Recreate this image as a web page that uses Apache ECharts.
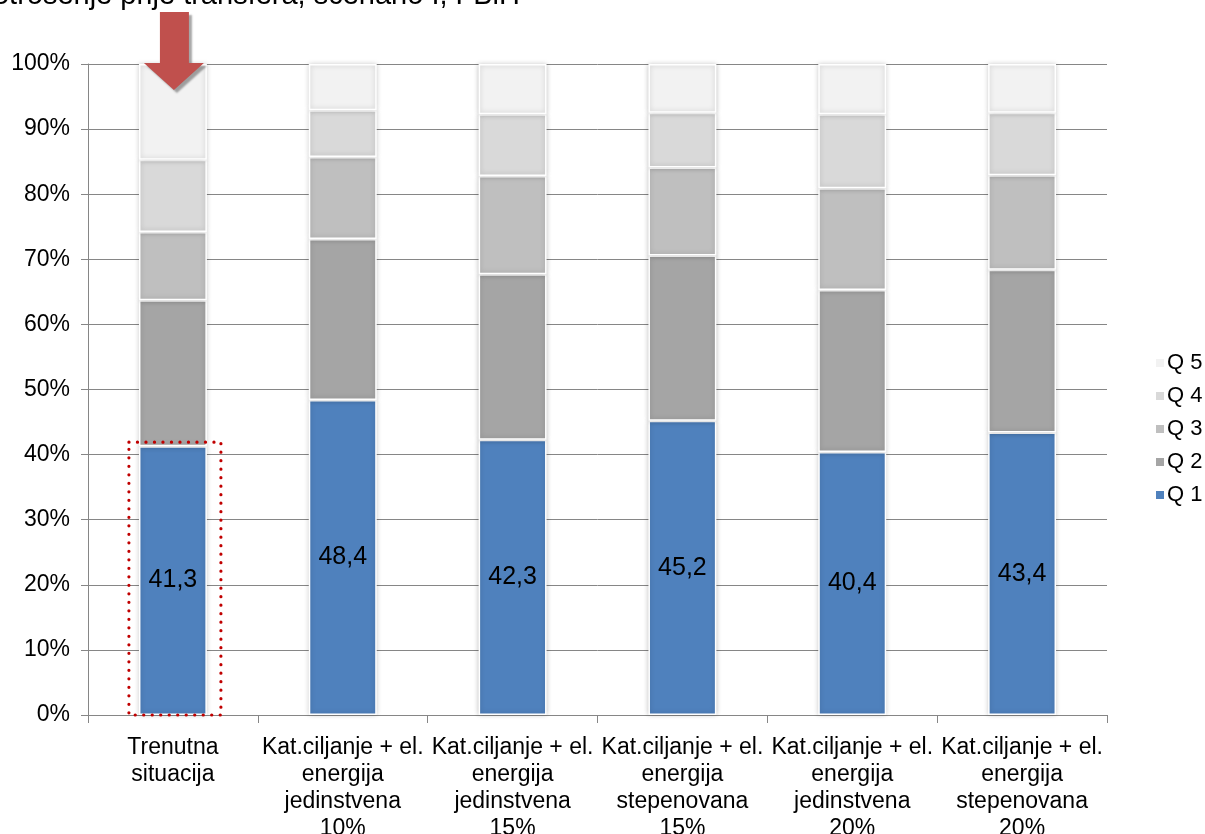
<!DOCTYPE html>
<html>
<head>
<meta charset="utf-8">
<script src="https://cdn.jsdelivr.net/npm/echarts@6/dist/echarts.min.js"></script>
<style>
  html, body { margin: 0; padding: 0; background: #fff; }
  #chart { width: 1205px; height: 834px; }
</style>
</head>
<body>
<div id="chart"></div>
<script>
// Scenarios on the x axis
const categories = [
  'Trenutna\nsituacija',
  'Kat.ciljanje + el.\nenergija\njedinstvena\n10%',
  'Kat.ciljanje + el.\nenergija\njedinstvena\n15%',
  'Kat.ciljanje + el.\nenergija\nstepenovana\n15%',
  'Kat.ciljanje + el.\nenergija\njedinstvena\n20%',
  'Kat.ciljanje + el.\nenergija\nstepenovana\n20%'
];

// Share of each quintile (%) per scenario
const q1 = [41.3, 48.4, 42.3, 45.2, 40.4, 43.4];
const q2 = [22.4, 24.7, 25.4, 25.4, 24.9, 25.0];
const q3 = [10.5, 12.6, 15.1, 13.5, 15.6, 14.5];
const q4 = [11.1, 7.2, 9.5, 8.4, 11.4, 9.6];
const q5 = [14.7, 7.1, 7.7, 7.5, 7.7, 7.5];

const seriesNames = ['Q 1', 'Q 2', 'Q 3', 'Q 4', 'Q 5'];
const seriesData = [q1, q2, q3, q4, q5];
const seriesColors = ['#4F81BD', '#A5A5A5', '#BFBFBF', '#D9D9D9', '#F2F2F2'];

const yTicks = { min: 0, max: 100, interval: 10 };
const titleText = 'Potrošenje prije transfera, scenario I, FBiH';

const FONT = 'Arial, "Liberation Sans", sans-serif';
const chart = echarts.init(document.getElementById('chart'));

const series = seriesNames.map((name, i) => ({
  name: name,
  type: 'bar',
  stack: 'total',
  barWidth: '40%',
  data: seriesData[i],
  itemStyle: {
    color: seriesColors[i],
    borderColor: '#ffffff',
    borderWidth: 1.5,
    shadowColor: 'rgba(0,0,0,0.22)',
    shadowBlur: 5
  },
  label: i === 0 ? {
    show: true,
    position: 'inside',
    color: '#000',
    fontFamily: FONT,
    fontSize: 25,
    formatter: p => p.value.toFixed(1).replace('.', ',')
  } : { show: false },
  emphasis: { disabled: true }
}));

chart.setOption({
  animation: false,
  backgroundColor: '#ffffff',
  grid: {
    left: 88, right: 98, top: 64, bottom: 119,
    containLabel: false,
    outerBoundsMode: 'none'
  },
  legend: {
    orient: 'vertical',
    left: 1149,
    top: 347,
    itemWidth: 10,
    itemHeight: 10,
    itemGap: 11,
    icon: 'rect',
    data: ['Q 5', 'Q 4', 'Q 3', 'Q 2', 'Q 1'],
    textStyle: { fontFamily: FONT, fontSize: 22, color: '#000', padding: [0, 0, 0, -3] }
  },
  xAxis: {
    type: 'category',
    data: categories,
    axisLine: { lineStyle: { color: '#868686', width: 1 } },
    axisTick: { show: true, length: 8, lineStyle: { color: '#868686' } },
    axisLabel: {
      interval: 0,
      margin: 19,
      color: '#000',
      fontFamily: FONT,
      fontSize: 23,
      lineHeight: 27
    }
  },
  yAxis: {
    type: 'value',
    min: yTicks.min,
    max: yTicks.max,
    interval: yTicks.interval,
    axisLine: { show: true, lineStyle: { color: '#868686', width: 1 } },
    axisTick: { show: true, inside: false, length: 7, lineStyle: { color: '#868686' } },
    splitLine: { show: true, lineStyle: { color: '#868686', width: 1 } },
    axisLabel: {
      margin: 18,
      color: '#000',
      fontFamily: FONT,
      fontSize: 23,
      formatter: '{value}%'
    }
  },
  series: series
});

// Annotations tied to the first scenario: red arrow and dotted frame around Q 1
const base = chart.convertToPixel({ gridIndex: 0 }, [0, 0]);
const q1Top = chart.convertToPixel({ gridIndex: 0 }, [0, q1[0]]);
const top100 = chart.convertToPixel({ gridIndex: 0 }, [0, 100]);
const cx = base[0] + 1;

chart.setOption({
  graphic: [
    {
      type: 'text',
      right: 1205 - 520,
      top: -19,
      style: {
        text: titleText,
        fill: '#000',
        font: '29px ' + FONT
      },
      z: 10
    },
    {
      type: 'polygon',
      shape: {
        points: [
          [cx - 14, 12], [cx + 15, 12],
          [cx + 15, top100[1] - 1], [cx + 30, top100[1] - 1],
          [cx, top100[1] + 26],
          [cx - 30, top100[1] - 1], [cx - 14, top100[1] - 1]
        ]
      },
      style: {
        fill: '#C0504D',
        shadowColor: 'rgba(0,0,0,0.35)',
        shadowBlur: 2,
        shadowOffsetX: 3,
        shadowOffsetY: 3
      },
      z: 20
    },
    {
      type: 'rect',
      shape: {
        x: cx - 45,
        y: q1Top[1] - 4,
        width: 92,
        height: base[1] - q1Top[1] + 4
      },
      style: {
        fill: 'none',
        stroke: '#C00000',
        lineWidth: 3.2,
        lineDash: [0.1, 8.4],
        lineCap: 'round'
      },
      z: 20
    }
  ]
});
</script>
</body>
</html>
